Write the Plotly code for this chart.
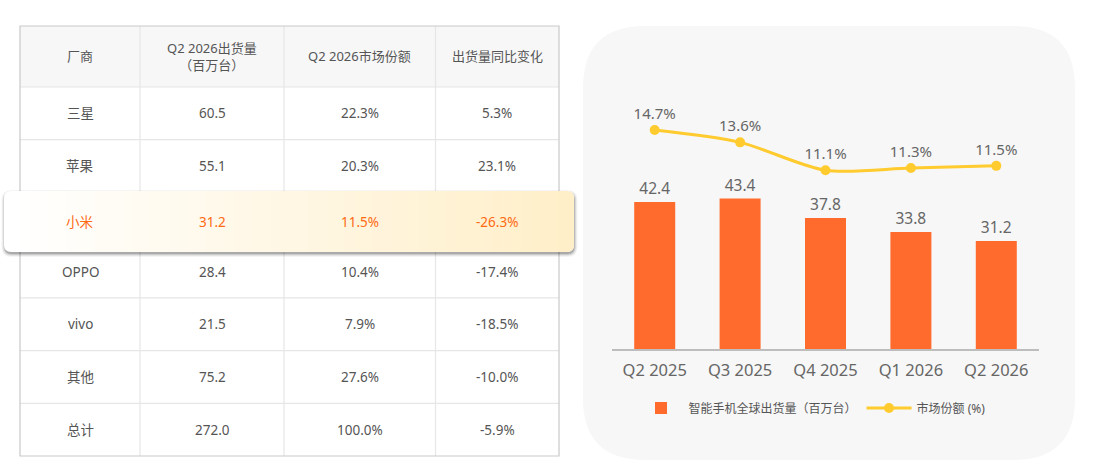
#!/usr/bin/env python3
"""
Xiaomi smartphone shipments: vendor table (left) + quarterly bar/line chart (right).
"""

import plotly.graph_objects as go

# ---- data ----
table_headers = ["厂商", "Q2 2026出货量<br>（百万台）", "Q2 2026市场份额", "出货量同比变化"]
vendors = ["三星", "苹果", "小米", "OPPO", "vivo", "其他", "总计"]
vendor_shipments = [60.5, 55.1, 31.2, 28.4, 21.5, 75.2, 272.0]
vendor_share = [22.3, 20.3, 11.5, 10.4, 7.9, 27.6, 100.0]
vendor_yoy = [5.3, 23.1, -26.3, -17.4, -18.5, -10.0, -5.9]
highlight_vendor = "小米"

quarters = ["Q2 2025", "Q3 2025", "Q4 2025", "Q1 2026", "Q2 2026"]
xiaomi_shipments = [42.4, 43.4, 37.8, 33.8, 31.2]
xiaomi_share = [14.7, 13.6, 11.1, 11.3, 11.5]

# ---- page geometry (pixels) ----
W, H = 1097, 472
FONT = "Noto Sans, Noto Sans CJK SC, sans-serif"
TEXT_GREY = "#555555"
ORANGE = "#FF6B2C"
ORANGE_TEXT = "#FF6A13"
YELLOW = "#FFCB2F"

col_edges = [20, 140, 284, 435.5, 559]
table_top, header_bottom, table_bottom = 26, 87, 456
row_h = (table_bottom - header_bottom) / len(vendors)
hl_box = (4, 191, 574, 252)  # highlighted row card


def px(x):
    return x / W


def py(y):
    return 1 - y / H


def rounded_path(x0, y0, x1, y1, r):
    """Rounded rectangle as an SVG path in paper coordinates."""
    pts = [
        ("M", x0 + r, y0), ("L", x1 - r, y0), ("Q", x1, y0, x1, y0 + r),
        ("L", x1, y1 - r), ("Q", x1, y1, x1 - r, y1), ("L", x0 + r, y1),
        ("Q", x0, y1, x0, y1 - r), ("L", x0, y0 + r), ("Q", x0, y0, x0 + r, y0),
    ]
    out = []
    for p in pts:
        cmd, coords = p[0], p[1:]
        xy = []
        for i in range(0, len(coords), 2):
            xy.append(f"{px(coords[i]):.5f},{py(coords[i + 1]):.5f}")
        out.append(cmd + " ".join(xy))
    return " ".join(out) + " Z"


def mix(c0, c1, t):
    return "rgb({},{},{})".format(*[round(a + (b - a) * t) for a, b in zip(c0, c1)])


shapes = []
annotations = []

# ---- right panel background ----
shapes.append(dict(type="path", xref="paper", yref="paper", layer="below",
                   path=rounded_path(583, 26, 1075, 460, 62),
                   fillcolor="#F7F7F7", line=dict(width=0)))

# ---- table: header band and grid ----
shapes.append(dict(type="rect", xref="paper", yref="paper", layer="below",
                   x0=px(col_edges[0]), x1=px(col_edges[-1]),
                   y0=py(header_bottom), y1=py(table_top),
                   fillcolor="#F7F7F7", line=dict(width=0)))
row_edges = [header_bottom + i * row_h for i in range(1, len(vendors))]
for y in [header_bottom] + row_edges:
    shapes.append(dict(type="line", xref="paper", yref="paper", layer="below",
                       x0=px(col_edges[0]), x1=px(col_edges[-1]), y0=py(y), y1=py(y),
                       line=dict(color="#E6E6E6", width=1.2)))
for x in col_edges[1:-1]:
    shapes.append(dict(type="line", xref="paper", yref="paper", layer="below",
                       x0=px(x), x1=px(x), y0=py(table_bottom), y1=py(table_top),
                       line=dict(color="#E6E6E6", width=1.2)))
shapes.append(dict(type="rect", xref="paper", yref="paper", layer="below",
                   x0=px(col_edges[0]), x1=px(col_edges[-1]),
                   y0=py(table_bottom), y1=py(table_top),
                   line=dict(color="#C9C9C9", width=1.2)))

# ---- highlighted row card (shadow + gradient) ----
hx0, hy0, hx1, hy1 = hl_box
for grow, alpha in [(3, 0.04), (2, 0.07), (1, 0.10), (0, 0.16)]:
    shapes.append(dict(type="path", xref="paper", yref="paper", layer="above",
                       path=rounded_path(hx0 - grow + 0.5, hy0 - grow + 2, hx1 + grow + 0.5,
                                         hy1 + grow + 2, 7 + grow),
                       fillcolor=f"rgba(0,0,0,{alpha})", line=dict(width=0)))
c_left, c_right = (255, 255, 255), (255, 239, 201)
shapes.append(dict(type="path", xref="paper", yref="paper", layer="above",
                   path=rounded_path(hx0, hy0, hx1, hy1, 7),
                   fillcolor="white", line=dict(width=0)))
shapes.append(dict(type="path", xref="paper", yref="paper", layer="above",
                   path=rounded_path(hx1 - 20, hy0, hx1, hy1, 7),
                   fillcolor=mix(c_left, c_right, 1), line=dict(width=0)))
n_strips = 60
x_start, x_end = hx0 + 7, hx1 - 7
strip_w = (x_end - x_start) / n_strips
for i in range(n_strips):
    shapes.append(dict(type="rect", xref="paper", yref="paper", layer="above",
                       x0=px(x_start + i * strip_w), x1=px(x_start + (i + 1) * strip_w + 0.6),
                       y0=py(hy1), y1=py(hy0),
                       fillcolor=mix(c_left, c_right, (i + 0.5) / n_strips), line=dict(width=0)))

# ---- table text ----
col_centers = [(a + b) / 2 for a, b in zip(col_edges[:-1], col_edges[1:])]
for cx, label in zip(col_centers, table_headers):
    annotations.append(dict(xref="paper", yref="paper", x=px(cx), y=py((table_top + header_bottom) / 2),
                            text=label, showarrow=False, xanchor="center", yanchor="middle",
                            font=dict(family=FONT, size=13, color=TEXT_GREY)))
for i, vendor in enumerate(vendors):
    cells = [vendor, f"{vendor_shipments[i]:.1f}", f"{vendor_share[i]:.1f}%", f"{vendor_yoy[i]:.1f}%"]
    if vendor == highlight_vendor:
        cy, color = (hy0 + hy1) / 2, ORANGE_TEXT
    else:
        cy, color = header_bottom + (i + 0.5) * row_h, TEXT_GREY
    for cx, txt in zip(col_centers, cells):
        annotations.append(dict(xref="paper", yref="paper", x=px(cx), y=py(cy),
                                text=txt, showarrow=False, xanchor="center", yanchor="middle",
                                font=dict(family=FONT, size=13.5, color=color)))

# ---- right chart ----
fig = go.Figure()
fig.add_trace(go.Bar(
    x=quarters, y=xiaomi_shipments, name="智能手机全球出货量（百万台）",
    marker=dict(color=ORANGE, line=dict(width=0)), width=0.48,
    text=[f"{v:.1f}" for v in xiaomi_shipments], textposition="outside",
    textfont=dict(family=FONT, size=15.5, color="#666666"), cliponaxis=False,
    hoverinfo="skip",
))
fig.add_trace(go.Scatter(
    x=quarters, y=xiaomi_share, yaxis="y2", name="市场份额 (%)",
    mode="lines+markers+text", line=dict(color=YELLOW, width=3, shape="spline", smoothing=0.8),
    marker=dict(color=YELLOW, size=10),
    text=[f"{v:.1f}%" for v in xiaomi_share], textposition="top center",
    textfont=dict(family=FONT, size=15, color="#666666"), cliponaxis=False,
    hoverinfo="skip",
))

plot_top, plot_bottom = 60, 349
fig.update_layout(
    width=W, height=H,
    margin=dict(l=0, r=0, t=0, b=0),
    paper_bgcolor="white", plot_bgcolor="rgba(0,0,0,0)",
    font=dict(family=FONT, color=TEXT_GREY),
    xaxis=dict(domain=[px(612), px(1039)], showline=True, linecolor="#BDBDBD", linewidth=1.5,
               showgrid=False, zeroline=False, ticks="", ticklabelstandoff=5,
               tickfont=dict(family=FONT, size=16.5, color="#666666")),
    yaxis=dict(domain=[py(plot_bottom), py(plot_top)], range=[0, 83.4], visible=False),
    yaxis2=dict(overlaying="y", range=[-4.87, 20.96], visible=False),
    showlegend=True,
    legend=dict(orientation="h", x=px(812), xanchor="center", y=py(408), yanchor="middle",
                bgcolor="rgba(0,0,0,0)", font=dict(family=FONT, size=12, color=TEXT_GREY),
                itemwidth=45),
    shapes=shapes, annotations=annotations,
    bargap=0.52,
)

# page body has a default 8px margin; drop it so the figure sits at the window origin
fig.write_html("out.html", config={"displayModeBar": False},
               post_script="document.body.style.margin = '0';")
